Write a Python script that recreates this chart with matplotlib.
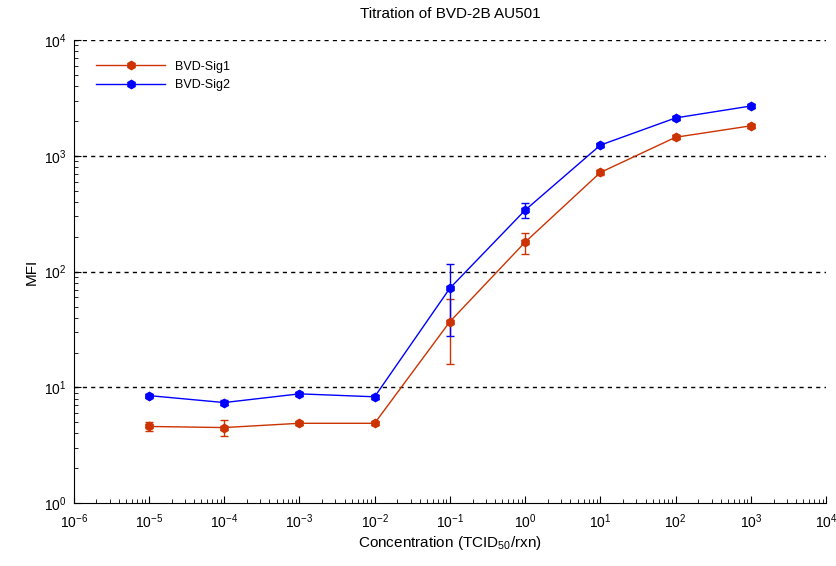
"""
Titration of BVD-2B AU501
"""
import numpy as np
import matplotlib
matplotlib.use('Agg')
import matplotlib.pyplot as plt
from matplotlib.ticker import LogLocator, NullFormatter

plt.rcParams['font.family'] = ['Liberation Sans', 'DejaVu Sans']
plt.rcParams['mathtext.fontset'] = 'custom'
plt.rcParams['mathtext.rm'] = 'Liberation Sans'
plt.rcParams['mathtext.default'] = 'regular'
plt.rcParams['axes.unicode_minus'] = False

conc = [1e-5, 1e-4, 1e-3, 1e-2, 1e-1, 1e0, 1e1, 1e2, 1e3]
sig1 = [4.6, 4.5, 4.9, 4.9, 37, 180, 720, 1450, 1820]
sig1_err = [0.4, 0.7, 0.15, 0.15, 21, 37, 30, 60, 70]
sig2 = [8.5, 7.4, 8.8, 8.3, 72, 340, 1240, 2130, 2700]
sig2_err = [0.3, 0.4, 0.3, 0.3, 44, 50, 40, 80, 90]

fig = plt.figure(figsize=(8.37, 5.66), dpi=100)
ax = fig.add_axes([0.088, 0.111, 0.899, 0.818])

red = '#cc3300'
blue = '#0000ff'
e1 = ax.errorbar(conc, sig1, yerr=sig1_err, color=red, marker='h', ms=6,
                 lw=1, capsize=3)
e2 = ax.errorbar(conc, sig2, yerr=sig2_err, color=blue, marker='h', ms=6,
                 lw=1, capsize=3)

ax.set_xscale('log')
ax.set_yscale('log')
ax.set_xlim(1e-6, 1e4)
ax.set_ylim(1, 1e4)
ax.set_xticks([10.0 ** k for k in range(-6, 5)])
ax.set_yticks([10.0 ** k for k in range(0, 5)])
ax.xaxis.set_minor_locator(LogLocator(base=10, subs=np.arange(2, 10), numticks=100))
ax.yaxis.set_minor_locator(LogLocator(base=10, subs=np.arange(2, 10), numticks=100))
ax.xaxis.set_minor_formatter(NullFormatter())
ax.yaxis.set_minor_formatter(NullFormatter())
ax.tick_params(which='both', direction='in', labelsize=10)
ax.tick_params(which='major', length=5)
ax.tick_params(which='minor', length=3)
ax.tick_params(axis='x', pad=7)
ax.tick_params(axis='y', pad=5)

for v in [10, 100, 1000, 10000]:
    ax.axhline(v, color='black', ls=(0, (3, 3)), lw=1, zorder=0)

ax.spines['top'].set_visible(False)
ax.spines['right'].set_visible(False)

ax.set_title('Titration of BVD-2B AU501', fontsize=11, pad=16)
ax.set_xlabel('Concentration (TCID$_{50}$/rxn)', fontsize=11, labelpad=2)
ax.set_ylabel('MFI', fontsize=11)
ax.legend([e1[0], e2[0]], ['BVD-Sig1', 'BVD-Sig2'], loc='upper left',
          frameon=False, fontsize=9, bbox_to_anchor=(0.015, 0.98),
          handlelength=5.5)

fig.savefig('out.png', dpi=100)
